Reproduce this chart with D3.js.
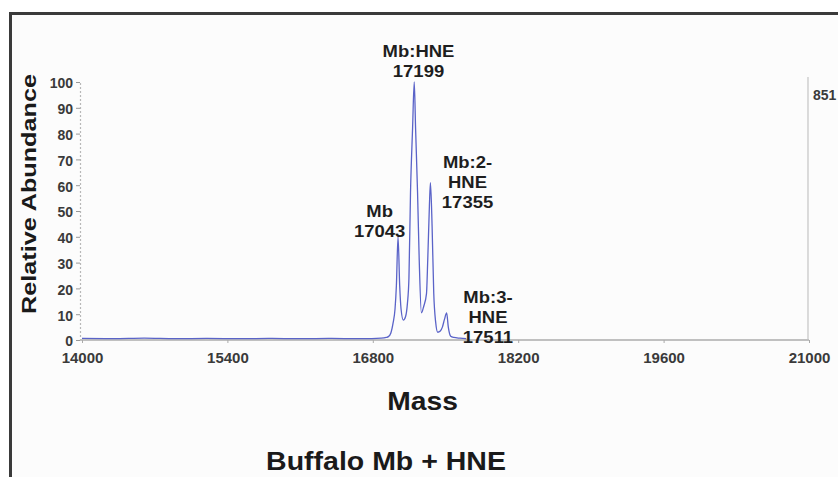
<!DOCTYPE html>
<html>
<head>
<meta charset="utf-8">
<script src="https://cdn.jsdelivr.net/npm/d3@7"></script>
<style>
  html, body { margin: 0; padding: 0; background: #ffffff; }
  svg { display: block; }
  text { font-family: "Liberation Sans", Arial, Helvetica, sans-serif; font-weight: bold; }
</style>
</head>
<body>
<svg id="chart" width="838" height="477"></svg>
<script>
// Deconvoluted mass spectrum: mass (Da) and relative abundance (%)
const traceMass = [
  14000, 14300, 14600, 14900, 15200, 15500, 15800, 16100, 16400, 16700, 16880,
  16930, 16950, 16973, 16995, 17014, 17027, 17043, 17059, 17072, 17094,
  17115, 17133, 17148, 17163, 17183, 17199, 17212, 17231, 17247, 17268,
  17290, 17317, 17329, 17345, 17355, 17371, 17387, 17405, 17425,
  17450, 17470, 17490, 17511, 17527, 17550, 17580, 17640, 17700
];
const traceAbundance = [
  0.6, 0.5, 0.7, 0.5, 0.6, 0.5, 0.6, 0.5, 0.6, 0.5, 0.7,
  1.0, 1.3, 2.6, 6.5, 12, 21, 40, 21, 12, 7.7,
  9, 14, 24, 57, 82, 100, 82, 57, 31, 10.5,
  13, 18, 31, 52, 61, 44, 18, 7, 3,
  3.5, 5, 8, 10.5, 5, 1.5, 1.0, 0.7, 0.5
];

// Peak annotations: text lines, label centre (mass) and first baseline (abundance)
const peakLabels = [
  { lines: ["Mb:HNE", "17199"], mass: 17240, top: 109.7 },
  { lines: ["Mb", "17043"], mass: 16866, top: 47.7 },
  { lines: ["Mb:2-", "HNE", "17355"], mass: 17712, top: 66.7 },
  { lines: ["Mb:3-", "HNE", "17511"], mass: 17909, top: 14.3 }
];

const xTicks = [14000, 15400, 16800, 18200, 19600, 21000];
const yTicks = [0, 10, 20, 30, 40, 50, 60, 70, 80, 90, 100];
const xTitle = "Mass";
const yTitle = "Relative Abundance";
const chartTitle = "Buffalo Mb + HNE";
const scaleNote = "851";

const svg = d3.select("#chart");

// Panel background and frame
svg.append("rect").attr("x", 10).attr("y", 13).attr("width", 828).attr("height", 464)
  .attr("fill", "#fcfcfc");
svg.append("line").attr("x1", 9).attr("x2", 838).attr("y1", 13.5).attr("y2", 13.5)
  .attr("stroke", "#3a3a3a").attr("stroke-width", 3);
svg.append("line").attr("x1", 10.5).attr("x2", 10.5).attr("y1", 12).attr("y2", 477)
  .attr("stroke", "#3a3a3a").attr("stroke-width", 3);

const x = d3.scaleLinear().domain([14000, 21000]).range([82, 809]);
const y = d3.scaleLinear().domain([0, 100]).range([340, 82]);

// Horizontally stretched bold text helper
function label(g, tx, ty, str, size, sx, anchor, fill) {
  return g.append("text")
    .attr("transform", `translate(${tx},${ty}) scale(${sx},1)`)
    .attr("text-anchor", anchor || "middle")
    .attr("font-size", size)
    .attr("fill", fill || "#1a1a1a")
    .text(str);
}

// Y axis: dotted line, small ticks, labels
const yAxis = svg.append("g").attr("transform", "translate(80,0)")
  .call(d3.axisLeft(y).tickValues(yTicks).tickSize(4).tickPadding(3).tickFormat(d3.format("d")));
yAxis.select(".domain").attr("stroke", "#b8b8b8").attr("stroke-dasharray", "2,2").attr("stroke-width", 1.2);
yAxis.selectAll(".tick line").attr("stroke", "#999");
yAxis.selectAll(".tick text")
  .attr("font-size", 14).attr("fill", "#3a3a3a")
  .attr("font-family", "Liberation Sans, Arial, sans-serif").attr("font-weight", "bold")
  .attr("dy", "0.42em");

// Right frame line of the plot
svg.append("line").attr("x1", x(21000) - 1).attr("x2", x(21000) - 1)
  .attr("y1", 77).attr("y2", y(0))
  .attr("stroke", "#c4c4c4").attr("stroke-width", 1.2);

// X axis: baseline, ticks, labels
const xAxis = svg.append("g").attr("transform", `translate(0,${y(0)})`)
  .call(d3.axisBottom(x).tickValues(xTicks).tickSize(3).tickPadding(9).tickFormat(d3.format("d")));
xAxis.select(".domain").attr("stroke", "#c0c0c0").attr("stroke-width", 2.2)
  .attr("d", `M80,0H${x(21000)}`);
xAxis.selectAll(".tick line").attr("stroke", "#aaa");
xAxis.selectAll(".tick text")
  .attr("font-size", 15).attr("fill", "#3a3a3a")
  .attr("font-family", "Liberation Sans, Arial, sans-serif").attr("font-weight", "bold");

// Spectrum trace
const traceData = traceMass.map((m, i) => [m, traceAbundance[i]]);
const line = d3.line().x(d => x(d[0])).y(d => y(d[1])).curve(d3.curveMonotoneX);
svg.append("path").datum(traceData)
  .attr("d", line)
  .attr("fill", "none")
  .attr("stroke", "#5a63c8")
  .attr("stroke-width", 1.3)
  .attr("stroke-linejoin", "round");

// Peak annotations
const ann = svg.append("g");
peakLabels.forEach(p => {
  p.lines.forEach((t, i) => {
    label(ann, x(p.mass), y(p.top) + i * 20, t, 16.5, 1.12, "middle", "#1e1e1e");
  });
});

// Intensity note at the right edge
label(svg, 813, 100, scaleNote, 14, 1.0, "start", "#3a3a3a");

// Axis titles and chart title
label(svg, x(17280), 410, xTitle, 25, 1.13, "middle", "#1a1a1a");
svg.append("text")
  .attr("transform", `translate(36,194) rotate(-90) scale(1.2,1)`)
  .attr("text-anchor", "middle")
  .attr("font-size", 21)
  .attr("fill", "#1a1a1a")
  .text(yTitle);
label(svg, 386, 470, chartTitle, 25, 1.14, "middle", "#1a1a1a");
</script>
</body>
</html>
